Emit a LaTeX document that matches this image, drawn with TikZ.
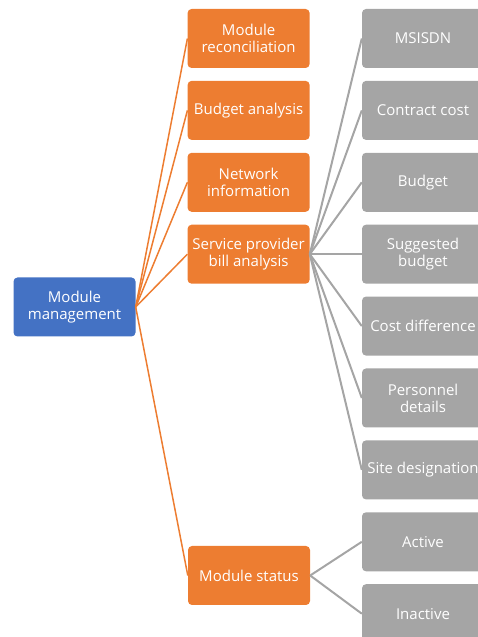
\documentclass[tikz,border=0pt]{standalone}
\usepackage{fontspec}
\setmainfont{Open Sans}
\usepackage{xcolor}
\usepackage{tikz}
\usetikzlibrary{positioning}

\definecolor{topblue}{HTML}{4472C4}
\definecolor{midorange}{HTML}{ED7D31}
\definecolor{leafgray}{HTML}{A5A5A5}

\begin{document}
\begin{tikzpicture}[x=1pt, y=1pt, node distance=12.5pt and 52pt,
    box/.style={rounded corners=4pt, minimum width=122pt, minimum height=59pt,
        inner sep=1pt, align=center, text=white,
        font=\fontsize{15}{17}\selectfont},
    rootbox/.style={box, fill=topblue},
    branchbox/.style={box, fill=midorange},
    leafbox/.style={box, fill=leafgray},
    branchline/.style={midorange, line width=1.5pt},
    leafline/.style={leafgray, line width=2pt}]
    \useasboundingbox (0,0) rectangle (478,637);
    \clip (0,0) rectangle (478,637);

    % right column of leaves
    \node[leafbox] (msisdn) at (423,598.5) {MSISDN};
    \node[leafbox, below=of msisdn] (cost) {Contract cost};
    \node[leafbox, below=of cost] (budget) {Budget};
    \node[leafbox, below=of budget] (sugg) {Suggested\\budget};
    \node[leafbox, below=of sugg] (diff) {Cost difference};
    \node[leafbox, below=of diff] (pers) {Personnel\\details};
    \node[leafbox, below=of pers] (site) {Site designation};
    \node[leafbox, below=of site] (active) {Active};
    \node[leafbox, below=of active] (inactive) {Inactive};

    % middle column
    \node[branchbox, left=of msisdn] (recon) {Module\\reconciliation};
    \node[branchbox, left=of cost] (banal) {Budget analysis};
    \node[branchbox, left=of budget] (netinfo) {Network\\information};
    \node[branchbox, left=of sugg] (bill) {Service provider\\bill analysis};
    \node[branchbox] (status) at (249,61.5) {Module status};

    % root
    \node[rootbox] (root) at (74.5,330) {Module\\management};

    \foreach \b in {recon, banal, netinfo, bill, status}
        \draw[branchline] (root.east) -- (\b.west);
    \foreach \l in {msisdn, cost, budget, sugg, diff, pers, site}
        \draw[leafline] (bill.east) -- (\l.west);
    \foreach \l in {active, inactive}
        \draw[leafline] (status.east) -- (\l.west);
\end{tikzpicture}
\end{document}
